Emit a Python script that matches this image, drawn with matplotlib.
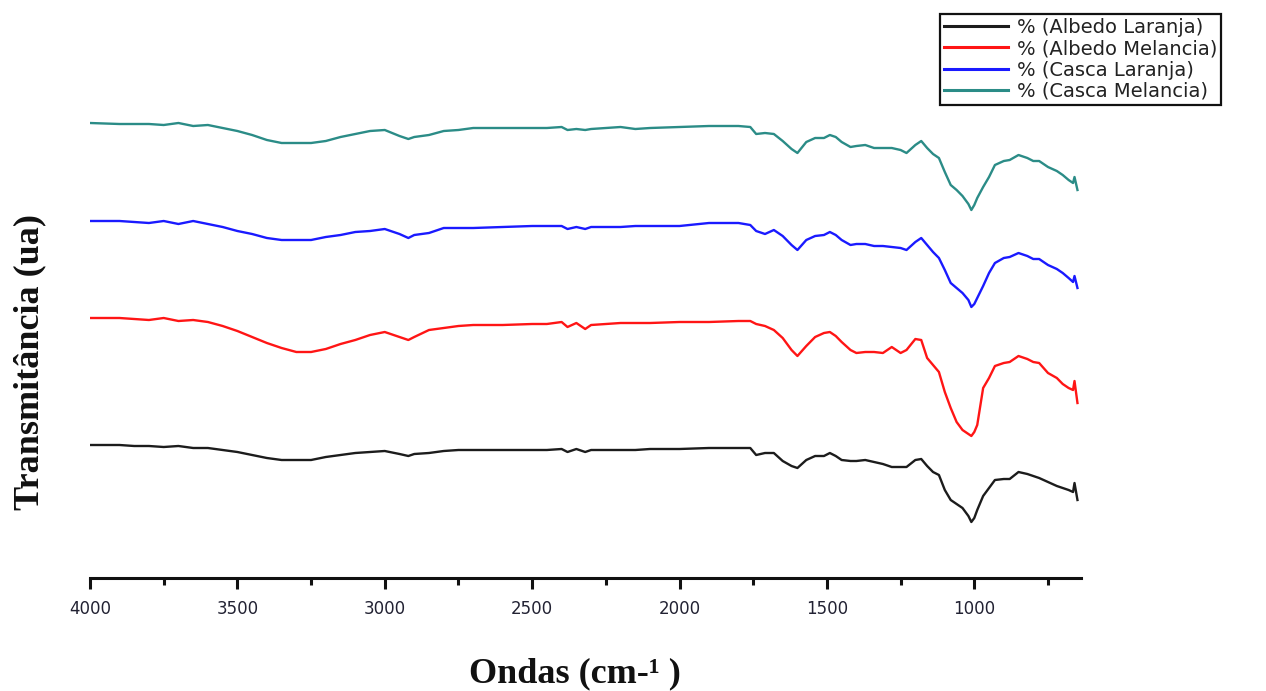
import matplotlib
matplotlib.use("Agg")
import matplotlib.pyplot as plt
from matplotlib.ticker import MultipleLocator

# Wavenumber grid (cm-1), descending
wavenumber = [4000, 3900, 3850, 3800, 3750, 3700, 3650, 3600, 3550, 3500,
              3450, 3400, 3350, 3300, 3250, 3200, 3150, 3100, 3050, 3000,
              2950, 2920, 2900, 2850, 2800, 2750, 2700, 2600, 2500, 2450,
              2400, 2380, 2350, 2320, 2300, 2250, 2200, 2150, 2100, 2000,
              1900, 1800, 1760, 1740, 1710, 1680, 1650, 1620, 1600, 1570,
              1540, 1510, 1490, 1470, 1450, 1420, 1400, 1370, 1340, 1310,
              1280, 1250, 1230, 1200, 1180, 1160, 1140, 1120, 1100, 1080,
              1060, 1040, 1020, 1010, 1000, 990, 970, 950, 930, 900,
              880, 850, 820, 800, 780, 750, 720, 700, 680, 665, 660, 650]

# Transmittance (arbitrary units, stacked)
albedo_laranja = [1.33, 1.33, 1.32, 1.32, 1.31, 1.32, 1.30, 1.30, 1.28, 1.26,
                  1.23, 1.20, 1.18, 1.18, 1.18, 1.21, 1.23, 1.25, 1.26, 1.27,
                  1.24, 1.22, 1.24, 1.25, 1.27, 1.28, 1.28, 1.28, 1.28, 1.28,
                  1.29, 1.26, 1.29, 1.26, 1.28, 1.28, 1.28, 1.28, 1.29, 1.29,
                  1.30, 1.30, 1.30, 1.23, 1.25, 1.25, 1.17, 1.12, 1.10, 1.18,
                  1.22, 1.22, 1.25, 1.22, 1.18, 1.17, 1.17, 1.18, 1.16, 1.14,
                  1.11, 1.11, 1.11, 1.18, 1.19, 1.12, 1.06, 1.03, 0.88, 0.78,
                  0.74, 0.70, 0.62, 0.56, 0.60, 0.68, 0.82, 0.90, 0.98, 0.99,
                  0.99, 1.06, 1.04, 1.02, 1.00, 0.96, 0.92, 0.90, 0.88, 0.86, 0.95, 0.78]

albedo_melancia = [2.60, 2.60, 2.59, 2.58, 2.60, 2.57, 2.58, 2.56, 2.52, 2.47,
                   2.41, 2.35, 2.30, 2.26, 2.26, 2.29, 2.34, 2.38, 2.43, 2.46,
                   2.41, 2.38, 2.41, 2.48, 2.50, 2.52, 2.53, 2.53, 2.54, 2.54,
                   2.56, 2.51, 2.55, 2.49, 2.53, 2.54, 2.55, 2.55, 2.55, 2.56,
                   2.56, 2.57, 2.57, 2.54, 2.52, 2.48, 2.40, 2.28, 2.22, 2.32,
                   2.41, 2.45, 2.46, 2.42, 2.36, 2.28, 2.25, 2.26, 2.26, 2.25,
                   2.31, 2.25, 2.28, 2.39, 2.38, 2.20, 2.13, 2.06, 1.86, 1.70,
                   1.56, 1.48, 1.44, 1.42, 1.46, 1.53, 1.90, 2.00, 2.12, 2.15,
                   2.16, 2.22, 2.19, 2.16, 2.15, 2.05, 2.00, 1.94, 1.90, 1.88, 1.97, 1.75]

casca_laranja = [3.57, 3.57, 3.56, 3.55, 3.57, 3.54, 3.57, 3.54, 3.51, 3.47,
                 3.44, 3.40, 3.38, 3.38, 3.38, 3.41, 3.43, 3.46, 3.47, 3.49,
                 3.44, 3.40, 3.43, 3.45, 3.50, 3.50, 3.50, 3.51, 3.52, 3.52,
                 3.52, 3.49, 3.51, 3.49, 3.51, 3.51, 3.51, 3.52, 3.52, 3.52,
                 3.55, 3.55, 3.53, 3.47, 3.44, 3.48, 3.42, 3.33, 3.28, 3.38,
                 3.42, 3.43, 3.46, 3.43, 3.38, 3.33, 3.34, 3.34, 3.32, 3.32,
                 3.31, 3.30, 3.28, 3.36, 3.40, 3.33, 3.26, 3.20, 3.08, 2.95,
                 2.90, 2.85, 2.78, 2.71, 2.74, 2.80, 2.92, 3.05, 3.15, 3.20,
                 3.21, 3.25, 3.22, 3.19, 3.19, 3.13, 3.09, 3.05, 3.00, 2.96, 3.02, 2.90]

casca_melancia = [4.55, 4.54, 4.54, 4.54, 4.53, 4.55, 4.52, 4.53, 4.50, 4.47,
                  4.43, 4.38, 4.35, 4.35, 4.35, 4.37, 4.41, 4.44, 4.47, 4.48,
                  4.42, 4.39, 4.41, 4.43, 4.47, 4.48, 4.50, 4.50, 4.50, 4.50,
                  4.51, 4.48, 4.49, 4.48, 4.49, 4.50, 4.51, 4.49, 4.50, 4.51,
                  4.52, 4.52, 4.51, 4.44, 4.45, 4.44, 4.37, 4.29, 4.25, 4.36,
                  4.40, 4.40, 4.43, 4.41, 4.36, 4.31, 4.32, 4.33, 4.30, 4.30,
                  4.30, 4.28, 4.25, 4.33, 4.37, 4.30, 4.24, 4.20, 4.06, 3.93,
                  3.88, 3.82, 3.74, 3.68, 3.73, 3.80, 3.91, 4.01, 4.13, 4.17,
                  4.18, 4.23, 4.20, 4.17, 4.17, 4.11, 4.07, 4.03, 3.98, 3.95, 4.01, 3.88]

labels = ["% (Albedo Laranja)", "% (Albedo Melancia)",
          "% (Casca Laranja)", "% (Casca Melancia)"]
colors = ["#1c1c1c", "#ff1515", "#1a1aff", "#2b8c87"]
series = [albedo_laranja, albedo_melancia, casca_laranja, casca_melancia]

fig = plt.figure(figsize=(12.66, 6.91), dpi=100)
ax = fig.add_axes([90 / 1266, 113 / 691, (1081 - 90) / 1266, 478 / 691])

lines = []
for s, c, lab in zip(series, colors, labels):
    ln, = ax.plot(wavenumber, s, color=c, lw=1.7, label=lab)
    lines.append(ln)

ax.set_xlim(4000, 638)
ax.set_ylim(0, 4.78)
ax.xaxis.set_major_locator(MultipleLocator(500))
ax.xaxis.set_minor_locator(MultipleLocator(250))
for side in ("top", "right", "left"):
    ax.spines[side].set_visible(False)
ax.spines["bottom"].set_linewidth(2.2)
ax.spines["bottom"].set_color("#111111")
ax.set_yticks([])
ax.tick_params(axis="x", which="major", direction="out", length=8, width=2.2,
               color="#111111", labelsize=12, pad=8, labelcolor="#222233")
ax.tick_params(axis="x", which="minor", direction="out", length=5, width=2.2,
               color="#111111")
for t in ax.get_xticklabels():
    t.set_fontfamily("DejaVu Sans")

fig.text(30 / 1266, 1 - 362 / 691, "Transmitância (ua)", rotation=90,
         family="Liberation Serif", weight="bold", fontsize=26,
         ha="center", va="center", color="#111111")
fig.text(575 / 1266, 1 - 674 / 691, "Ondas (cm-¹ )",
         family="Liberation Serif", weight="bold", fontsize=26,
         ha="center", va="center", color="#111111")

leg = fig.legend(handles=lines, labels=labels, loc="upper left",
                 bbox_to_anchor=(940 / 1266, 1 - 14 / 691),
                 frameon=True, fancybox=False, framealpha=1,
                 edgecolor="#111111", borderaxespad=0, borderpad=0.2,
                 handlelength=3.3, handletextpad=0.45, labelspacing=0.12,
                 prop={"family": "DejaVu Sans", "size": 14})
leg.get_frame().set_linewidth(1.6)
for ln in leg.get_lines():
    ln.set_linewidth(2.2)
for t in leg.get_texts():
    t.set_color("#222222")

fig.savefig("out.png", dpi=100)
